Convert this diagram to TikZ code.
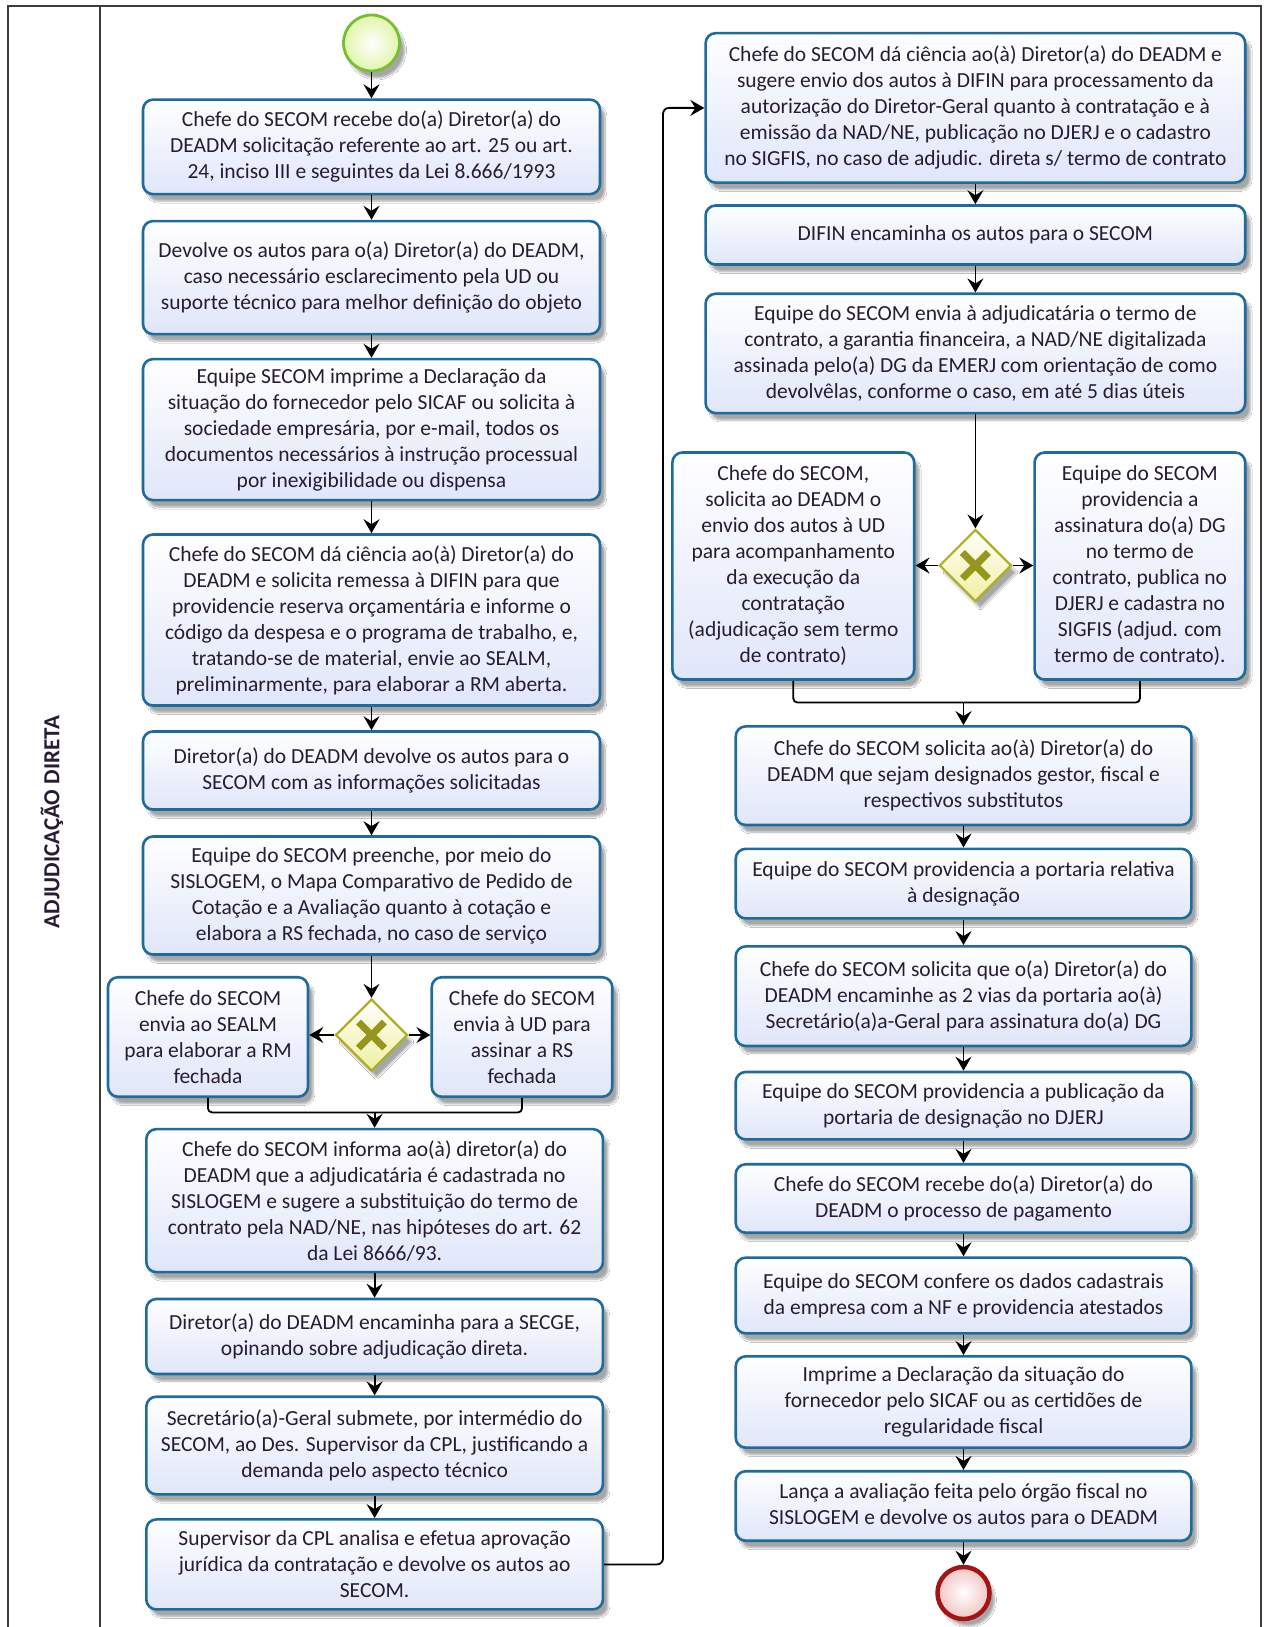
\documentclass[tikz,border=0pt]{standalone}
\usepackage{fontspec}
\setmainfont{Carlito}
\usetikzlibrary{shapes.geometric,arrows.meta,shadows.blur,calc}
\definecolor{tborder}{RGB}{30,108,158}
\definecolor{tfill}{RGB}{224,230,250}
\definecolor{ttext}{RGB}{40,28,52}
\definecolor{gborder}{RGB}{175,175,40}
\definecolor{gfill}{RGB}{240,240,160}
\definecolor{gmark}{RGB}{150,150,30}
\definecolor{sborder}{RGB}{120,190,50}
\definecolor{sfill}{RGB}{225,245,170}
\definecolor{eborder}{RGB}{165,20,20}
\definecolor{efill}{RGB}{242,196,196}
\definecolor{frame}{RGB}{60,60,60}
\begin{document}
\begin{tikzpicture}[x=1pt,y=-1pt,
  shd/.style={blur shadow={shadow xshift=5pt,shadow yshift=-7pt,shadow blur steps=6,shadow opacity=35}},
  task/.style={shd,draw=tborder,line width=2.6pt,rounded corners=10pt,top color=white,bottom color=tfill,
    align=center,inner sep=2pt,text=ttext,font=\fontsize{21.5}{26}\selectfont},
  gw/.style={shd,diamond,aspect=1,draw=gborder,line width=2.2pt,top color=white,bottom color=gfill,
    minimum width=72pt,minimum height=72pt,inner sep=0pt},
  xmark/.style={draw=gmark,line width=7pt},
  startev/.style={shd,circle,draw=sborder,line width=2.8pt,inner color=white,outer color=sfill,minimum size=56pt,inner sep=0pt},
  endev/.style={shd,circle,draw=eborder,line width=4.5pt,inner color=white,outer color=efill,minimum size=52pt,inner sep=0pt},
  conn/.style={draw=black,line width=1.8pt},
  arr/.style={conn,-{Stealth[length=14pt,width=16pt,inset=5pt]}},
]
\useasboundingbox (0,0) rectangle (1267,1627);
\fill[white] (0,0) rectangle (1267,1627);
% frame and lane
\draw[frame,line width=1.8pt] (8,1630) -- (8,6) -- (1261,6) -- (1261,1630);
\draw[frame,line width=1.8pt] (100,6) -- (100,1630);
\node[rotate=90,font=\bfseries\fontsize{23}{26}\selectfont,text=ttext] (lane) at (52,822) {ADJUDICAÇÃO DIRETA};

% left column
\node[startev] (start) at (371.5,43) {};
\node[task,minimum width=457pt,minimum height=94.5pt] (b1) at (371.5,146.9) {Chefe do SECOM recebe do(a) Diretor(a) do\\DEADM solicitação referente ao art. 25 ou art.\\24, inciso III e seguintes da Lei 8.666/1993};
\node[task,minimum width=457pt,minimum height=113pt] (b2) at (371.5,277.6) {Devolve os autos para o(a) Diretor(a) do DEADM,\\caso necessário esclarecimento pela UD ou\\suporte técnico para melhor definição do objeto};
\node[task,minimum width=457pt,minimum height=141pt] (b3) at (371.5,429.6) {Equipe SECOM imprime a Declaração da\\situação do fornecedor pelo SICAF ou solicita à\\sociedade empresária, por e-mail, todos os\\documentos necessários à instrução processual\\por inexigibilidade ou dispensa};
\node[task,minimum width=457pt,minimum height=171pt] (b4) at (371.5,620) {Chefe do SECOM dá ciência ao(à) Diretor(a) do\\DEADM e solicita remessa à DIFIN para que\\providencie reserva orçamentária e informe o\\código da despesa e o programa de trabalho, e,\\tratando-se de material, envie ao SEALM,\\preliminarmente, para elaborar a RM aberta.};
\node[task,minimum width=457pt,minimum height=78pt] (b5) at (371.5,770.5) {Diretor(a) do DEADM devolve os autos para o\\SECOM com as informações solicitadas};
\node[task,minimum width=457pt,minimum height=118pt] (b6) at (371.5,895.5) {Equipe do SECOM preenche, por meio do\\SISLOGEM, o Mapa Comparativo de Pedido de\\Cotação e a Avaliação quanto à cotação e\\elabora a RS fechada, no caso de serviço};
\node[gw] (g1) at (371.5,1035) {};
\draw[xmark] ($(g1)+(-13,-13)$) -- ($(g1)+(13,13)$);
\draw[xmark] ($(g1)+(-13,13)$) -- ($(g1)+(13,-13)$);
\node[task,minimum width=200pt,minimum height=119.5pt] (b7l) at (208,1037) {Chefe do SECOM\\envia ao SEALM\\para elaborar a RM\\fechada};
\node[task,minimum width=180.5pt,minimum height=119.5pt] (b7r) at (522,1037) {Chefe do SECOM\\envia à UD para\\assinar a RS\\fechada};
\node[task,minimum width=456.6pt,minimum height=143pt] (b8) at (374.6,1200.6) {Chefe do SECOM informa ao(à) diretor(a) do\\DEADM que a adjudicatária é cadastrada no\\SISLOGEM e sugere a substituição do termo de\\contrato pela NAD/NE, nas hipóteses do art. 62\\da Lei 8666/93.};
\node[task,minimum width=456.6pt,minimum height=75pt] (b9) at (374.6,1336.5) {Diretor(a) do DEADM encaminha para a SECGE,\\opinando sobre adjudicação direta.};
\node[task,minimum width=456.6pt,minimum height=97.6pt] (b10) at (374.6,1445.5) {Secretário(a)-Geral submete, por intermédio do\\SECOM, ao Des. Supervisor da CPL, justificando a\\demanda pelo aspecto técnico};
\node[task,minimum width=456.6pt,minimum height=90pt] (b11) at (374.6,1564.4) {Supervisor da CPL analisa e efetua aprovação\\jurídica da contratação e devolve os autos ao\\SECOM.};

% right column
\node[task,minimum width=539.6pt,minimum height=149.4pt] (b12) at (975.4,107.9) {Chefe do SECOM dá ciência ao(à) Diretor(a) do DEADM e\\sugere envio dos autos à DIFIN para processamento da\\autorização do Diretor-Geral quanto à contratação e à\\emissão da NAD/NE, publicação no DJERJ e o cadastro\\no SIGFIS, no caso de adjudic. direta s/ termo de contrato};
\node[task,minimum width=539.6pt,minimum height=59pt] (b13) at (975.4,235) {DIFIN encaminha os autos para o SECOM};
\node[task,minimum width=539.6pt,minimum height=119.3pt] (b14) at (975.4,353.4) {Equipe do SECOM envia à adjudicatária o termo de\\contrato, a garantia financeira, a NAD/NE digitalizada\\assinada pelo(a) DG da EMERJ com orientação de como\\devolvêlas, conforme o caso, em até 5 dias úteis};
\node[gw] (g2) at (975.4,565.5) {};
\draw[xmark] ($(g2)+(-13,-13)$) -- ($(g2)+(13,13)$);
\draw[xmark] ($(g2)+(-13,13)$) -- ($(g2)+(13,-13)$);
\node[task,minimum width=241.8pt,minimum height=227pt] (b15l) at (793.3,566) {Chefe do SECOM,\\solicita ao DEADM o\\envio dos autos à UD\\para acompanhamento\\da execução da\\contratação\\(adjudicação sem termo\\de contrato)};
\node[task,minimum width=210.6pt,minimum height=227pt] (b15r) at (1139.9,566) {Equipe do SECOM\\providencia a\\assinatura do(a) DG\\no termo de\\contrato, publica no\\DJERJ e cadastra no\\SIGFIS (adjud. com\\termo de contrato).};
\node[task,minimum width=455.6pt,minimum height=98.6pt] (b16) at (963.5,775.7) {Chefe do SECOM solicita ao(à) Diretor(a) do\\DEADM que sejam designados gestor, fiscal e\\respectivos substitutos};
\node[task,minimum width=455.6pt,minimum height=69.6pt] (b17) at (963.5,883.6) {Equipe do SECOM providencia a portaria relativa\\à designação};
\node[task,minimum width=455.6pt,minimum height=99.6pt] (b18) at (963.5,996.2) {Chefe do SECOM solicita que o(a) Diretor(a) do\\DEADM encaminhe as 2 vias da portaria ao(à)\\Secretário(a)a-Geral para assinatura do(a) DG};
\node[task,minimum width=455.6pt,minimum height=67.4pt] (b19) at (963.5,1105.7) {Equipe do SECOM providencia a publicação da\\portaria de designação no DJERJ};
\node[task,minimum width=455.6pt,minimum height=68.5pt] (b20) at (963.5,1198.5) {Chefe do SECOM recebe do(a) Diretor(a) do\\DEADM o processo de pagamento};
\node[task,minimum width=455.6pt,minimum height=75.7pt] (b21) at (963.5,1295.5) {Equipe do SECOM confere os dados cadastrais\\da empresa com a NF e providencia atestados};
\node[task,minimum width=455.6pt,minimum height=91.3pt] (b22) at (963.5,1402) {Imprime a Declaração da situação do\\fornecedor pelo SICAF ou as certidões de\\regularidade fiscal};
\node[task,minimum width=455.6pt,minimum height=69.5pt] (b23) at (963.5,1506) {Lança a avaliação feita pelo órgão fiscal no\\SISLOGEM e devolve os autos para o DEADM};
\node[endev] (end) at (963.5,1593) {};

% coordinates
\coordinate (m1) at (374.6,1112.4);
\coordinate (m2) at (963.5,702.5);
\coordinate (c1) at (663,107.9);

% connectors left
\draw[arr] (start) -- (b1);
\draw[arr] (b1) -- (b2);
\draw[arr] (b2) -- (b3);
\draw[arr] (b3) -- (b4);
\draw[arr] (b4) -- (b5);
\draw[arr] (b5) -- (b6);
\draw[arr] (b6.south -| g1) -- (g1.north);
\draw[arr] (g1.west) -- (b7l.east |- g1);
\draw[arr] (g1.east) -- (b7r.west |- g1);
\draw[conn,rounded corners=4pt] (b7l.south) |- (m1);
\draw[conn,rounded corners=4pt] (b7r.south) |- (m1);
\draw[arr] (m1) -- (b8.north);
\draw[arr] (b8) -- (b9);
\draw[arr] (b9) -- (b10);
\draw[arr] (b10) -- (b11);
\draw[arr,rounded corners=6pt] (b11.east) -| (c1) -- (b12.west);
% connectors right
\draw[arr] (b12) -- (b13);
\draw[arr] (b13) -- (b14);
\draw[arr] (b14) -- (g2);
\draw[arr] (g2.west) -- (b15l.east |- g2);
\draw[arr] (g2.east) -- (b15r.west |- g2);
\draw[conn,rounded corners=4pt] (b15l.south) |- (m2);
\draw[conn,rounded corners=4pt] (b15r.south) |- (m2);
\draw[arr] (m2) -- (b16.north);
\draw[arr] (b16) -- (b17);
\draw[arr] (b17) -- (b18);
\draw[arr] (b18) -- (b19);
\draw[arr] (b19) -- (b20);
\draw[arr] (b20) -- (b21);
\draw[arr] (b21) -- (b22);
\draw[arr] (b22) -- (b23);
\draw[arr] (b23) -- (end);
\end{tikzpicture}
\end{document}
